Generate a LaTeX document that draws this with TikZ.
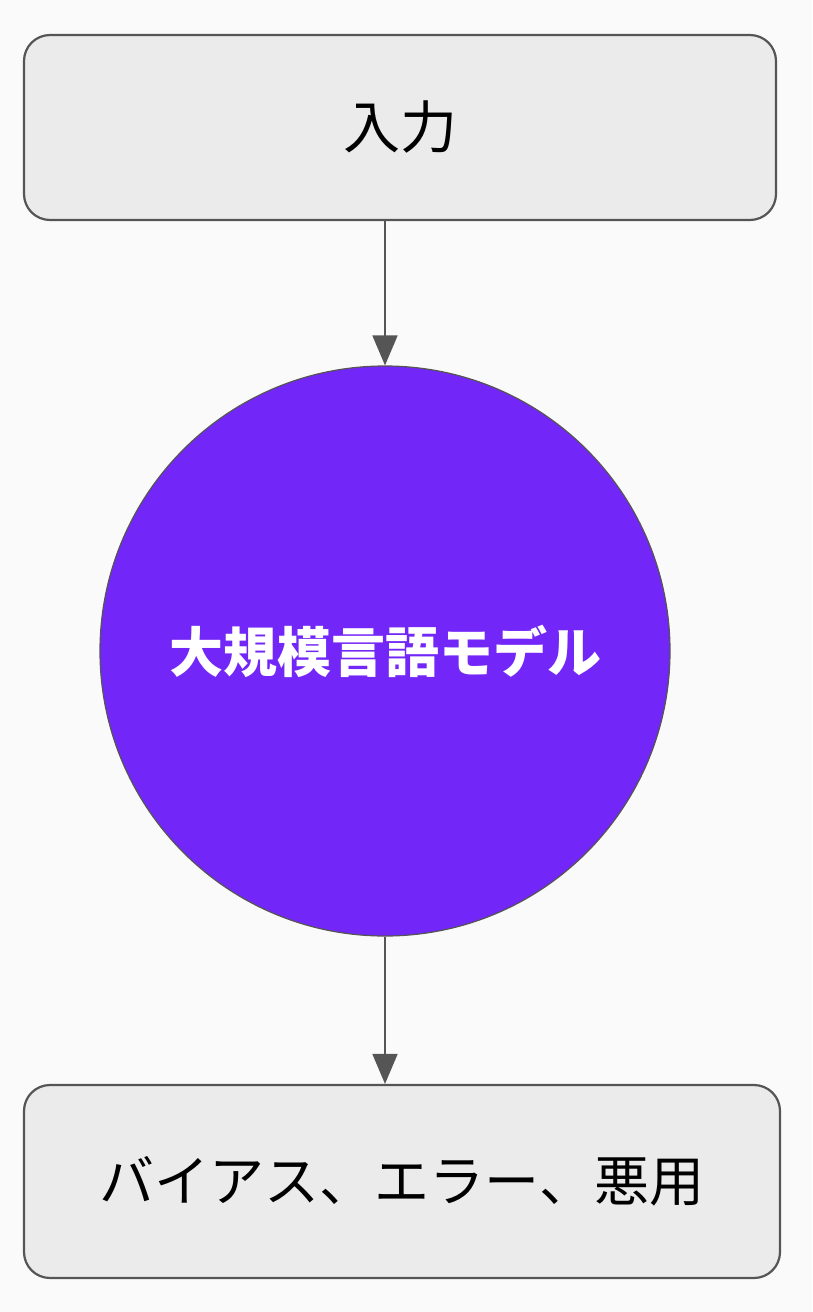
\documentclass[tikz,border=0pt]{standalone}
\usepackage{fontspec}
\newfontfamily\jpfont{Noto Sans CJK JP}
\usepackage{tikz}
\usetikzlibrary{arrows.meta, positioning}
\usepackage{xcolor}
\definecolor{box_fill}{HTML}{EBEBEB}
\definecolor{box_line}{HTML}{555555}
\definecolor{model_fill}{HTML}{7326F8}
\colorlet{flow_line}{box_line}
\colorlet{page_back}{white!98!black}

\begin{document}
\begin{tikzpicture}[
    x=1pt, y=-1pt,
    >={Triangle[length=30pt, width=25pt]},
    io-box/.style={draw=box_line, fill=box_fill, line width=2.2pt, rounded corners=26pt,
      font=\jpfont\fontsize{55}{60}\selectfont, text=black, inner sep=0pt},
    model/.style={circle, draw=box_line, fill=model_fill, line width=1.2pt, inner sep=0pt,
      font=\jpfont\bfseries\fontsize{54}{60}\selectfont, text=white},
    flow/.style={color=flow_line, line width=1.8pt, ->},
  ]
  %%%%%%%%%% Background %%%%%%%%%%
  \fill[page_back] (0,0) rectangle (812,1312);
  \useasboundingbox (0,0) rectangle (812,1312);

  %%%%%%%%%% Nodes %%%%%%%%%%
  \node[io-box, minimum width=752pt, minimum height=185pt] (input) at (400,127.5) {\fontsize{57}{60}\selectfont 入力};
  \node[model, minimum size=570pt] (llm) at (385,651) {大規模言語モデル};
  \node[io-box, minimum width=756pt, minimum height=193pt] (output) at (402,1181.5) {バイアス、エラー、悪用};

  %%%%%%%%%% Connectors %%%%%%%%%%
  \draw[flow] (input.south -| llm.north) -- (llm.north);
  \draw[flow] (llm.south) -- (output.north -| llm.south);

\end{tikzpicture}
\end{document}
